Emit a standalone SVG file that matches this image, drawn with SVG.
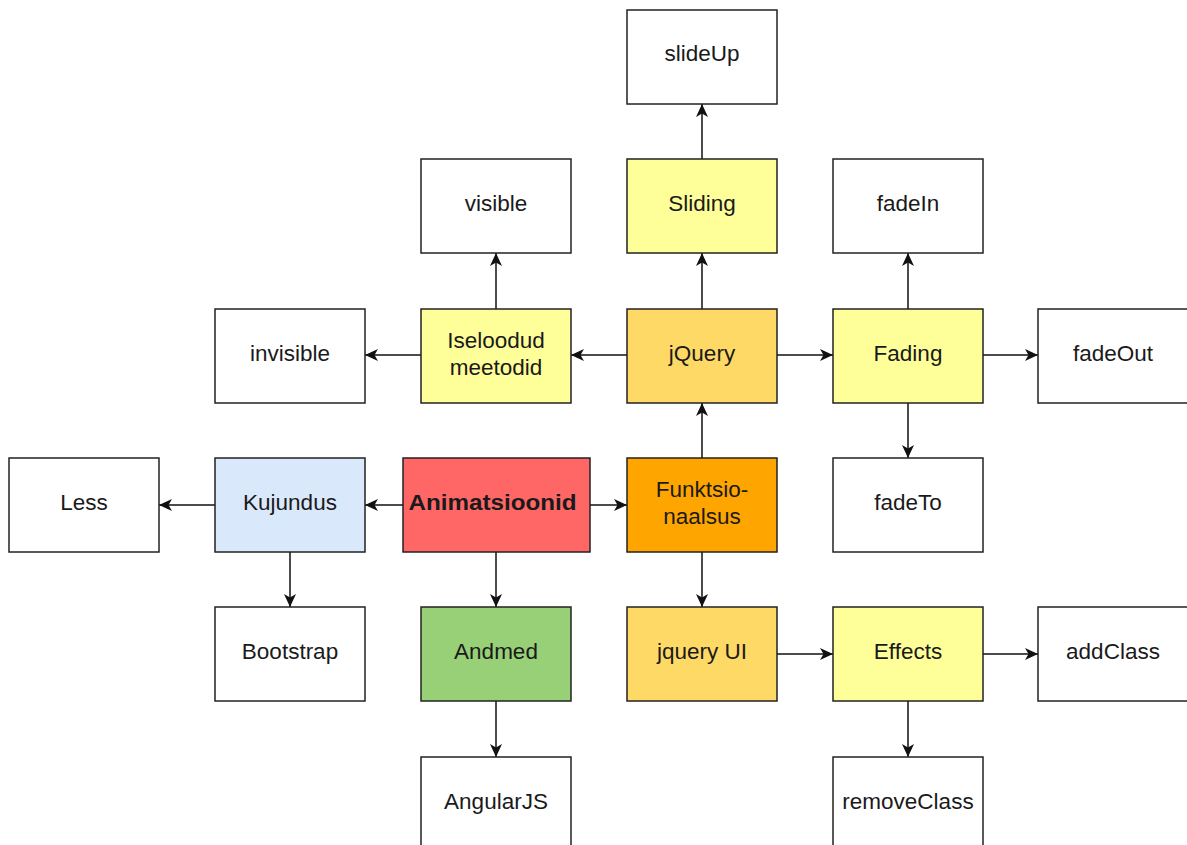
<svg xmlns="http://www.w3.org/2000/svg" width="1187" height="845" viewBox="0 0 1187 845">
<defs>
<style>
.b{stroke:#222;stroke-width:1.5}
.t{font-family:"Liberation Sans",Arial,sans-serif;font-size:22.5px;fill:#1a1a1a;text-anchor:middle;dominant-baseline:central}
.c{stroke:#111;stroke-width:1.5;fill:none;marker-end:url(#a)}
</style>
<marker id="a" markerUnits="userSpaceOnUse" markerWidth="14" markerHeight="12" refX="13" refY="6" orient="auto" viewBox="0 0 14 12">
<path d="M0,0 L13,6 L0,12 L3.5,6 z" fill="#111"/>
</marker>
</defs>
<rect width="1187" height="845" fill="#fff"/>
<g id="connectors">
<path class="c" d="M403,505 H365"/>
<path class="c" d="M590,505 H627"/>
<path class="c" d="M496,552 V607"/>
<path class="c" d="M215,505 H159"/>
<path class="c" d="M290,552 V607"/>
<path class="c" d="M496,701 V757"/>
<path class="c" d="M702,458 V403"/>
<path class="c" d="M702,552 V607"/>
<path class="c" d="M627,355 H571"/>
<path class="c" d="M702,309 V253"/>
<path class="c" d="M777,355 H833"/>
<path class="c" d="M702,159 V104"/>
<path class="c" d="M496,309 V253"/>
<path class="c" d="M421,355 H365"/>
<path class="c" d="M908,309 V253"/>
<path class="c" d="M983,355 H1038"/>
<path class="c" d="M908,402 V458"/>
<path class="c" d="M777,654 H833"/>
<path class="c" d="M983,654 H1038"/>
<path class="c" d="M908,701 V757"/>
</g>
<g id="slideUp"><rect class="b" x="627" y="10" width="150" height="94" fill="#fff"/><text class="t" x="702" y="53">slideUp</text></g>
<g id="visible"><rect class="b" x="421" y="159" width="150" height="94" fill="#fff"/><text class="t" x="496" y="203">visible</text></g>
<g id="Sliding"><rect class="b" x="627" y="159" width="150" height="94" fill="#ffff99"/><text class="t" x="702" y="203">Sliding</text></g>
<g id="fadeIn"><rect class="b" x="833" y="159" width="150" height="94" fill="#fff"/><text class="t" x="908" y="203">fadeIn</text></g>
<g id="invisible"><rect class="b" x="215" y="309" width="150" height="94" fill="#fff"/><text class="t" x="290" y="353">invisible</text></g>
<g id="Iseloodud"><rect class="b" x="421" y="309" width="150" height="94" fill="#ffff99"/><text class="t" x="496" y="340">Iseloodud</text><text class="t" x="496" y="367">meetodid</text></g>
<g id="jQuery"><rect class="b" x="627" y="309" width="150" height="94" fill="#ffd966"/><text class="t" x="702" y="353">jQuery</text></g>
<g id="Fading"><rect class="b" x="833" y="309" width="150" height="94" fill="#ffff99"/><text class="t" x="908" y="353">Fading</text></g>
<g id="fadeOut"><rect class="b" x="1038" y="309" width="150" height="94" fill="#fff"/><text class="t" x="1113" y="353">fadeOut</text></g>
<g id="Less"><rect class="b" x="9" y="458" width="150" height="94" fill="#fff"/><text class="t" x="84" y="502">Less</text></g>
<g id="Kujundus"><rect class="b" x="215" y="458" width="150" height="94" fill="#dae8fc"/><text class="t" x="290" y="502">Kujundus</text></g>
<g id="Animatsioonid"><rect class="b" x="403" y="458" width="187" height="94" fill="#ff6666"/><text class="t" x="492.5" y="502" font-weight="bold" textLength="168" lengthAdjust="spacingAndGlyphs">Animatsioonid</text></g>
<g id="Funktsionaalsus"><rect class="b" x="627" y="458" width="150" height="94" fill="#ffa500"/><text class="t" x="702" y="489">Funktsio-</text><text class="t" x="702" y="516">naalsus</text></g>
<g id="fadeTo"><rect class="b" x="833" y="458" width="150" height="94" fill="#fff"/><text class="t" x="908" y="502">fadeTo</text></g>
<g id="Bootstrap"><rect class="b" x="215" y="607" width="150" height="94" fill="#fff"/><text class="t" x="290" y="651">Bootstrap</text></g>
<g id="Andmed"><rect class="b" x="421" y="607" width="150" height="94" fill="#97d077"/><text class="t" x="496" y="651">Andmed</text></g>
<g id="jqueryUI"><rect class="b" x="627" y="607" width="150" height="94" fill="#ffd966"/><text class="t" x="702" y="651">jquery UI</text></g>
<g id="Effects"><rect class="b" x="833" y="607" width="150" height="94" fill="#ffff99"/><text class="t" x="908" y="651">Effects</text></g>
<g id="addClass"><rect class="b" x="1038" y="607" width="150" height="94" fill="#fff"/><text class="t" x="1113" y="651">addClass</text></g>
<g id="AngularJS"><rect class="b" x="421" y="757" width="150" height="94" fill="#fff"/><text class="t" x="496" y="801">AngularJS</text></g>
<g id="removeClass"><rect class="b" x="833" y="757" width="150" height="94" fill="#fff"/><text class="t" x="908" y="801">removeClass</text></g>
</svg>
